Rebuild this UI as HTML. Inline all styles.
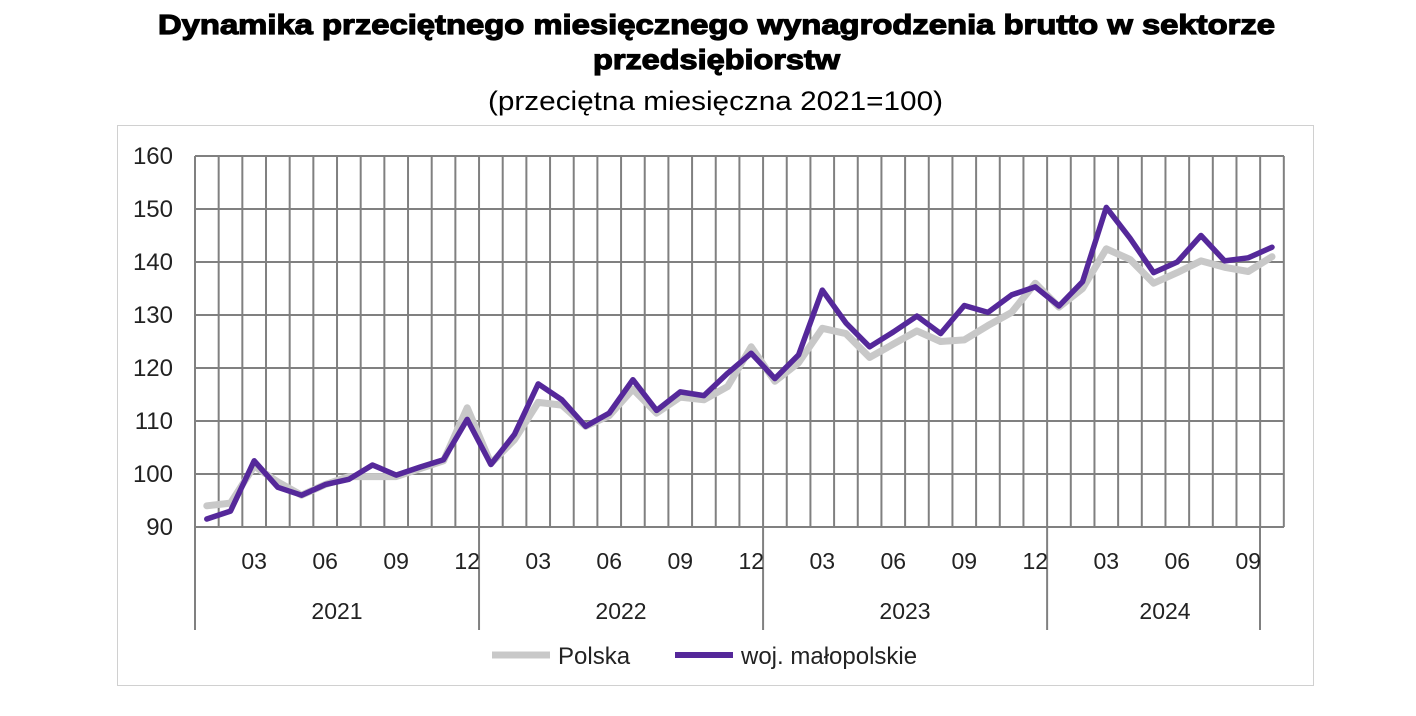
<!DOCTYPE html>
<html><head><meta charset="utf-8"><style>
body{margin:0;background:#fff;width:1416px;height:711px;overflow:hidden;font-family:"Liberation Sans",sans-serif}
</style></head><body>
<svg width="1416" height="711" xmlns="http://www.w3.org/2000/svg" font-family="Liberation Sans, sans-serif">
<text x="158" y="34" textLength="1117" lengthAdjust="spacingAndGlyphs" font-size="28" font-weight="bold" fill="#000" stroke="#000" stroke-width="1.2">Dynamika przeciętnego miesięcznego wynagrodzenia brutto w sektorze</text>
<text x="593" y="69" textLength="247" lengthAdjust="spacingAndGlyphs" font-size="28" font-weight="bold" fill="#000" stroke="#000" stroke-width="1.2">przedsiębiorstw</text>
<text x="488" y="110" textLength="455" lengthAdjust="spacingAndGlyphs" font-size="27" fill="#000">(przeciętna miesięczna 2021=100)</text>
<rect x="117.5" y="125.5" width="1196" height="560" fill="none" stroke="#d0d0d0"/>
<g id="grid" stroke="#808080" stroke-width="2"></g>
<g id="lab" font-size="23" fill="#222"></g>
<polyline id="pl" fill="none" stroke="#c8c8c8" stroke-width="7" stroke-linejoin="round" stroke-linecap="round"/>
<polyline id="ma" fill="none" stroke="#55289a" stroke-width="5.5" stroke-linejoin="round" stroke-linecap="round"/>
<line x1="492" y1="655" x2="550" y2="655" stroke="#c8c8c8" stroke-width="7"/>
<text x="558" y="664" font-size="24" fill="#222">Polska</text>
<line x1="675" y1="655" x2="733" y2="655" stroke="#55289a" stroke-width="6"/>
<text x="741" y="664" font-size="24" fill="#222">woj. małopolskie</text>
</svg>
<script>
const L=195,W=23.67,T=156,B=527;
const y=v=>T+(160-v)*(B-T)/70;
let g='',lab='';
for(let v=90;v<=160;v+=10){g+=`<line x1="${L}" x2="1284" y1="${y(v)}" y2="${y(v)}"/>`;lab+=`<text x="173" y="${y(v)+8}" text-anchor="end" font-size="24">${v}</text>`;}
for(let i=0;i<=46;i++){const x=L+i*W;let yb=B;if(i==0||i%12==0)yb=630;g+=`<line x1="${x}" x2="${x}" y1="${T}" y2="${yb}"/>`;}
g+=`<line x1="1260" x2="1260" y1="${B}" y2="630"/>`;
for(let i=0;i<46;i++){const m=i%12+1;if(m%3==0){lab+=`<text x="${L+(i+0.5)*W}" y="569" text-anchor="middle">${String(m).padStart(2,'0')}</text>`;}}
[[337,2021],[621,2022],[905,2023],[1165,2024]].forEach(a=>lab+=`<text x="${a[0]}" y="619" text-anchor="middle">${a[1]}</text>`);
document.getElementById('grid').innerHTML=g;document.getElementById('lab').innerHTML=lab;
const ma=[91.5,93,102.5,97.5,96,98,99,101.7,99.8,101.3,102.7,110.3,101.8,107.5,117,114,109,111.5,117.8,112,115.5,114.8,119,122.8,118,122.5,134.7,128.5,124,126.8,129.8,126.5,131.8,130.5,133.8,135.3,131.7,136.3,150.3,144.5,138,140,145,140.2,140.8,142.8];
const pl=[94,94.5,101.5,98.5,96,98,99.5,99.5,99.5,101,102.5,112.5,102,106.5,113.5,113,109,111,116,111.5,114.5,114,116.5,124,117.5,121,127.5,126.5,122,124.5,127,125,125.3,128,130.5,136,131.5,135,142.5,140.5,136,138,140.2,139,138.2,141];
const pts=a=>a.map((v,i)=>`${(L+(i+0.5)*W).toFixed(1)},${y(v).toFixed(1)}`).join(' ');
document.getElementById('pl').setAttribute('points',pts(pl));
document.getElementById('ma').setAttribute('points',pts(ma));
</script>
</body></html>
